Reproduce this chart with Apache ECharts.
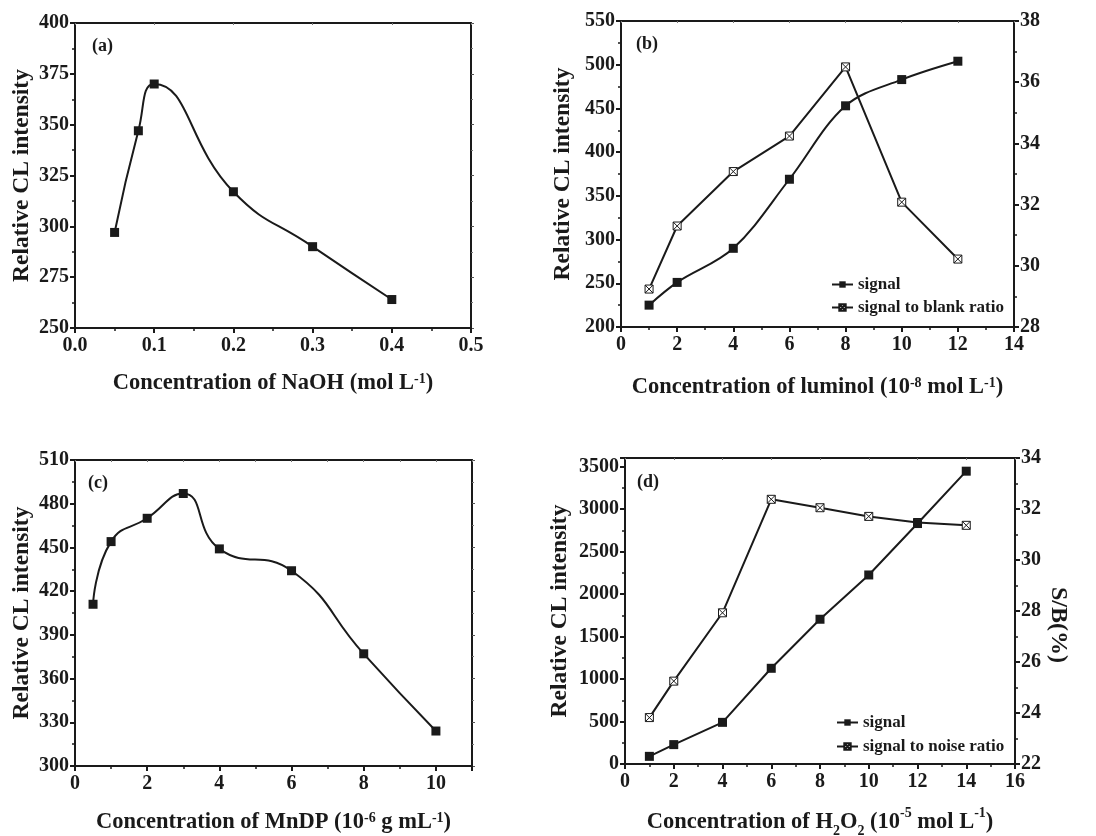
<!DOCTYPE html>
<html>
<head>
<meta charset="utf-8">
<script src="https://cdn.jsdelivr.net/npm/echarts@6/dist/echarts.min.js"></script>
<style>
html,body{margin:0;padding:0;background:#fff;}
#c{width:1096px;height:836px;}
</style>
</head>
<body>
<div id="c"></div>
<script>
// ---- data ----
const naohX = [0.05, 0.08, 0.1, 0.2, 0.3, 0.4];
const naohSignal = [297, 347, 370, 317, 290, 264];

const lumX = [1, 2, 4, 6, 8, 10, 12];
const lumSignal = [225, 251, 290, 369, 453, 483, 504];
const lumRatio = [29.24, 31.30, 33.08, 34.24, 36.50, 32.08, 30.22];

const mndpX = [0.5, 1, 2, 3, 4, 6, 8, 10];
const mndpSignal = [411, 454, 470, 487, 449, 434, 377, 324];

const h2o2X = [1, 2, 4, 6, 8, 10, 12, 14];
const h2o2Signal = [90, 228, 490, 1126, 1703, 2224, 2829, 3445];
const h2o2Ratio = [23.82, 25.25, 27.93, 32.38, 32.05, 31.71, 31.47, 31.36];

const panelLabels = ['(a)', '(b)', '(c)', '(d)'];
const yTitle = 'Relative CL intensity';
const xTitles = [
  'Concentration of NaOH (mol L{sup|-1})',
  'Concentration of luminol (10{sup|-8} mol L{sup|-1})',
  'Concentration of MnDP (10{sup|-6} g mL{sup|-1})',
  'Concentration of H{sub|2}O{sub|2} (10{sup|-5} mol L{sup|-1})'
];
const rightTitle = 'S/B(%)';
const legendB = ['signal', 'signal to blank ratio'];
const legendD = ['signal', 'signal to noise ratio'];

// ---- styles ----
const FONT = '"Liberation Serif", "Times New Roman", serif';
const INK = '#1a1a1a';
const zip = (xs, ys) => xs.map((x, i) => [x, ys[i]]);
const crossBox = 'path://M0,0L10,0L10,10L0,10Z M0,0L10,10 M10,0L0,10';

const nameStyle = {
  fontFamily: FONT, fontWeight: 'bold', fontSize: 22.5, color: INK,
  rich: {
    sup: {fontFamily: FONT, fontWeight: 'bold', fontSize: 14, color: INK, verticalAlign: 'top', lineHeight: 14},
    sub: {fontFamily: FONT, fontWeight: 'bold', fontSize: 14, color: INK, verticalAlign: 'bottom', lineHeight: 32}
  }
};
const yNameStyle = {...nameStyle, fontSize: 23.5};
const labelStyle = {fontFamily: FONT, fontWeight: 'bold', fontSize: 20, color: INK};

function mainX(grid, min, max, interval, name, gap, showMax) {
  return {
    type: 'value', gridIndex: grid, position: 'bottom', min, max, interval,
    name, nameLocation: 'middle', nameGap: gap, nameTextStyle: nameStyle,
    axisLine: {show: true, onZero: false, lineStyle: {color: INK, width: 2}},
    axisTick: {show: true, inside: false, length: 5, lineStyle: {color: INK, width: 2}},
    minorTick: {show: true, splitNumber: 2, length: 3, lineStyle: {color: INK, width: 1.5}},
    axisLabel: {...labelStyle, margin: 8, showMaxLabel: showMax !== false,
      formatter: v => (interval < 1 ? v.toFixed(1) : String(v))},
    splitLine: {show: false}
  };
}
function topX(grid, min, max, interval) {
  return {
    type: 'value', gridIndex: grid, position: 'top', min, max, interval,
    axisLine: {show: true, onZero: false, lineStyle: {color: INK, width: 2}},
    axisTick: {show: true, inside: true, length: 2, lineStyle: {color: '#777', width: 1}},
    axisLabel: {show: false}, splitLine: {show: false}
  };
}
function leftY(grid, min, max, interval, gap, showMax) {
  return {
    type: 'value', gridIndex: grid, position: 'left', min, max, interval,
    name: yTitle, nameLocation: 'middle', nameGap: gap, nameTextStyle: yNameStyle,
    axisLine: {show: true, onZero: false, lineStyle: {color: INK, width: 2}},
    axisTick: {show: true, inside: false, length: 5, lineStyle: {color: INK, width: 2}},
    minorTick: {show: true, splitNumber: 2, length: 3, lineStyle: {color: INK, width: 1.5}},
    axisLabel: {...labelStyle, margin: 6, showMaxLabel: showMax !== false, formatter: v => String(v)},
    splitLine: {show: false}
  };
}
function mirrorY(grid, min, max, interval) {
  return {
    type: 'value', gridIndex: grid, position: 'right', min, max, interval,
    axisLine: {show: true, onZero: false, lineStyle: {color: INK, width: 2}},
    axisTick: {show: true, inside: false, length: 3, lineStyle: {color: '#555', width: 1}},
    minorTick: {show: true, splitNumber: 2, length: 2, lineStyle: {color: '#777', width: 1}},
    axisLabel: {show: false}, splitLine: {show: false}
  };
}
function rightY(grid, min, max, interval) {
  return {
    type: 'value', gridIndex: grid, position: 'right', min, max, interval,
    axisLine: {show: true, onZero: false, lineStyle: {color: INK, width: 2}},
    axisTick: {show: true, inside: false, length: 5, lineStyle: {color: INK, width: 2}},
    minorTick: {show: true, splitNumber: 2, length: 3, lineStyle: {color: INK, width: 1.5}},
    axisLabel: {...labelStyle, margin: 6, formatter: v => String(v)},
    splitLine: {show: false}
  };
}
function signalSeries(name, xi, yi, data, smooth) {
  return {
    type: 'line', name, xAxisIndex: xi, yAxisIndex: yi, data, smooth,
    symbol: 'rect', symbolSize: 9, showSymbol: true,
    lineStyle: {color: INK, width: 2}, itemStyle: {color: INK},
    z: 3
  };
}
function ratioSeries(name, xi, yi, data) {
  return {
    type: 'line', name, xAxisIndex: xi, yAxisIndex: yi, data,
    symbol: crossBox, symbolSize: 8, showSymbol: true,
    lineStyle: {color: INK, width: 2},
    itemStyle: {color: '#fff', borderColor: INK, borderWidth: 1},
    z: 2
  };
}
const legendText = {fontFamily: FONT, fontWeight: 'bold', fontSize: 17, color: INK};
const gridBase = {containLabel: false, outerBoundsMode: 'none'};

const chart = echarts.init(document.getElementById('c'), null, {renderer: 'canvas'});
const option = {
  backgroundColor: '#fff',
  animation: false,
  grid: [
    {...gridBase, left: 75, top: 23, width: 396, height: 305},
    {...gridBase, left: 621, top: 21, width: 393, height: 306},
    {...gridBase, left: 75, top: 460, width: 397, height: 306},
    {...gridBase, left: 625, top: 458, width: 390, height: 306}
  ],
  xAxis: [
    mainX(0, 0, 0.5, 0.1, xTitles[0], 44),
    topX(0, 0, 0.5, 0.1),
    mainX(1, 0, 14, 2, xTitles[1], 49),
    topX(1, 0, 14, 2),
    mainX(2, 0, 11, 2, xTitles[2], 45, false),
    topX(2, 0, 11, 1),
    mainX(3, 0, 16, 2, xTitles[3], 42),
    topX(3, 0, 16, 2)
  ],
  yAxis: [
    leftY(0, 250, 400, 25, 41),
    mirrorY(0, 250, 400, 25),
    leftY(1, 200, 550, 50, 46),
    rightY(1, 28, 38, 2),
    leftY(2, 300, 510, 30, 41),
    mirrorY(2, 300, 510, 30),
    leftY(3, 0, 3600, 500, 53, false),
    rightY(3, 22, 34, 2)
  ],
  legend: [
    {
      data: legendB, orient: 'vertical', left: 826, top: 271, itemGap: 6,
      itemWidth: 21, itemHeight: 8, selectedMode: false, textStyle: legendText
    },
    {
      data: legendD, orient: 'vertical', left: 831, top: 709, itemGap: 7,
      itemWidth: 21, itemHeight: 8, selectedMode: false, textStyle: legendText
    }
  ],
  graphic: [
    {type: 'text', left: 92, top: 37, style: {text: panelLabels[0], font: 'bold 18px ' + FONT, fill: INK}},
    {type: 'text', left: 636, top: 35, style: {text: panelLabels[1], font: 'bold 18px ' + FONT, fill: INK}},
    {type: 'text', left: 88, top: 474, style: {text: panelLabels[2], font: 'bold 18px ' + FONT, fill: INK}},
    {type: 'text', left: 637, top: 473, style: {text: panelLabels[3], font: 'bold 18px ' + FONT, fill: INK}},
    {type: 'text', x: 1110, y: 190, rotation: -Math.PI / 2,
      style: {text: rightTitle, font: 'bold 24px ' + FONT, fill: INK, align: 'center', verticalAlign: 'middle'}},
    {type: 'text', x: 1058, y: 625, rotation: -Math.PI / 2,
      style: {text: rightTitle, font: 'bold 24px ' + FONT, fill: INK, align: 'center', verticalAlign: 'middle'}}
  ],
  series: [
    signalSeries('signal-a', 0, 0, zip(naohX, naohSignal), 0.5),
    signalSeries(legendB[0], 2, 2, zip(lumX, lumSignal), 0.35),
    ratioSeries(legendB[1], 2, 3, zip(lumX, lumRatio)),
    signalSeries('signal-c', 4, 4, zip(mndpX, mndpSignal), 0.5),
    signalSeries(legendD[0], 6, 6, zip(h2o2X, h2o2Signal), false),
    ratioSeries(legendD[1], 6, 7, zip(h2o2X, h2o2Ratio))
  ]
};
chart.setOption(option);
</script>
</body>
</html>
